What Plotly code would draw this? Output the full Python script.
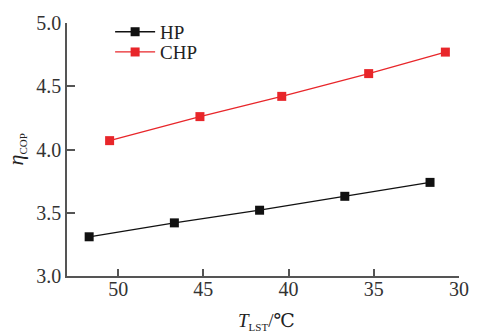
import plotly.graph_objects as go

hp_t = [51.7, 46.7, 41.7, 36.7, 31.7]
hp_cop = [3.31, 3.42, 3.52, 3.63, 3.74]
chp_t = [50.5, 45.2, 40.4, 35.3, 30.8]
chp_cop = [4.07, 4.26, 4.42, 4.60, 4.77]
x_ticks = [50, 45, 40, 35, 30]
y_ticks = [3.0, 3.5, 4.0, 4.5, 5.0]

FONT = "Liberation Serif, DejaVu Serif, serif"
fig = go.Figure()
fig.add_trace(go.Scatter(x=hp_t, y=hp_cop, name="HP", mode="lines+markers",
                         line=dict(color="#111111", width=1.3),
                         marker=dict(symbol="square", size=9, color="#111111"),
                         legend="legend"))
fig.add_trace(go.Scatter(x=chp_t, y=chp_cop, name="CHP", mode="lines+markers",
                         line=dict(color="#e8262a", width=1.3),
                         marker=dict(symbol="square", size=9, color="#e8262a"),
                         legend="legend2"))

axis_common = dict(showline=True, linecolor="#555555", linewidth=1.5, ticks="inside",
                   tickcolor="#555555", tickwidth=1.5, showgrid=False, zeroline=False,
                   ticklabeloverflow="allow",
                   tickfont=dict(family=FONT, size=20, color="#333333"))
legend_common = dict(xanchor="left", yanchor="top", bgcolor="rgba(0,0,0,0)",
                     font=dict(family=FONT, size=19, color="#222222"), itemwidth=40)
fig.update_layout(
    width=481, height=333,
    margin=dict(l=67, r=13, t=14, b=57),
    paper_bgcolor="white", plot_bgcolor="white",
    showlegend=True,
    legend=dict(x=0.11, y=1.04, **legend_common),
    legend2=dict(x=0.11, y=0.96, **legend_common),
    xaxis=dict(range=[53, 30], tickvals=x_ticks, ticklen=7, ticklabelstandoff=-6, **axis_common),
    yaxis=dict(range=[3.0, 5.0], tickvals=y_ticks, tickformat=".1f", ticklen=8, **axis_common),
    annotations=[
        dict(text="<i>η</i><sub><span style='font-size:11px'>COP</span></sub>",
             xref="paper", yref="paper", x=-0.13, y=0.5,
             textangle=-90, showarrow=False, xanchor="center", yanchor="middle",
             font=dict(family=FONT, size=22, color="#222222")),
        dict(text="<i>T</i><sub><span style='font-size:11px'>LST</span></sub>/℃",
             xref="paper", yref="paper", x=0.51, y=-0.18,
             showarrow=False, xanchor="center", yanchor="middle",
             font=dict(family=FONT, size=19, color="#222222")),
    ],
)
fig.write_html("out.html", config={"displayModeBar": False},
               post_script="document.body.style.margin='0';")
